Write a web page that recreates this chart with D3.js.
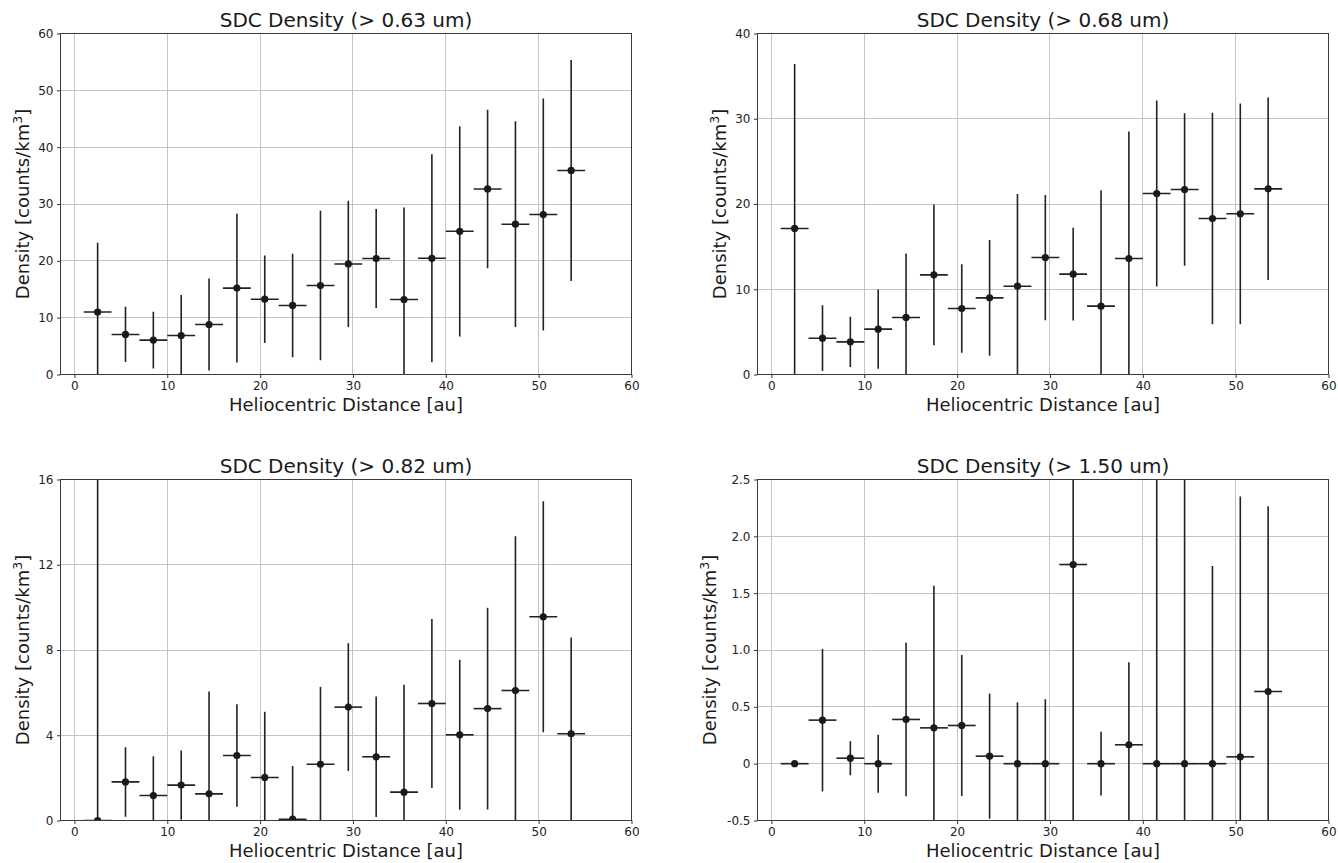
<!DOCTYPE html>
<html>
<head>
<meta charset="utf-8">
<script src="https://cdn.jsdelivr.net/npm/d3@7"></script>
<style>
  html, body { margin: 0; padding: 0; background: #fff; }
  svg { display: block; overflow: visible; }
</style>
</head>
<body>
<script>
// bin centres in au, each bin is +/- 1.5 au wide
const xCenters = [2.5, 5.5, 8.5, 11.5, 14.5, 17.5, 20.5, 23.5, 26.5, 29.5, 32.5, 35.5, 38.5, 41.5, 44.5, 47.5, 50.5, 53.5];
const xErr = 1.5;
const xTicks = [0, 10, 20, 30, 40, 50, 60];

const density063 = [11.0, 7.05, 6.05, 6.85, 8.8, 15.2, 13.25, 12.15, 15.65, 19.45, 20.4, 13.2, 20.45, 25.2, 32.65, 26.45, 28.15, 35.9];
const err063 = [12.2, 4.85, 5.0, 7.15, 8.1, 13.1, 7.7, 9.1, 13.15, 11.1, 8.7, 16.2, 18.3, 18.5, 13.95, 18.1, 20.4, 19.45];

const density068 = [17.13, 4.26, 3.83, 5.32, 6.69, 11.69, 7.74, 8.99, 10.36, 13.72, 11.77, 8.02, 13.6, 21.23, 21.7, 18.3, 18.85, 21.78];
const err068 = [19.3, 3.85, 2.95, 4.65, 7.5, 8.25, 5.2, 6.8, 10.8, 7.35, 5.45, 13.6, 14.9, 10.9, 8.95, 12.4, 12.95, 10.7];

const density082 = [0.0, 1.81, 1.17, 1.66, 1.25, 3.05, 2.02, 0.06, 2.64, 5.32, 2.99, 1.33, 5.49, 4.02, 5.25, 6.1, 9.56, 4.07];
const err082 = [17.0, 1.63, 1.85, 1.62, 4.8, 2.4, 3.08, 2.5, 3.63, 3.0, 2.83, 5.04, 3.97, 3.52, 4.73, 7.24, 5.42, 4.52];

const density150 = [0.0, 0.383, 0.048, 0.0, 0.389, 0.315, 0.336, 0.066, 0.0, 0.0, 1.752, 0.0, 0.166, 0.0, 0.0, 0.0, 0.06, 0.635];
const err150 = [0.0, 0.627, 0.15, 0.255, 0.675, 1.25, 0.62, 0.55, 0.54, 0.567, 2.5, 0.28, 0.727, 3.0, 3.0, 1.74, 2.29, 1.63];

const titles = ["SDC Density (> 0.63 um)", "SDC Density (> 0.68 um)", "SDC Density (> 0.82 um)", "SDC Density (> 1.50 um)"];
const yTicks063 = [0, 10, 20, 30, 40, 50, 60];
const yTicks068 = [0, 10, 20, 30, 40];
const yTicks082 = [0, 4, 8, 12, 16];
const yTicks150 = [-0.5, 0, 0.5, 1.0, 1.5, 2.0, 2.5];
const yLabels150 = ["-0.5", "0", "0.5", "1.0", "1.5", "2.0", "2.5"];

const outerWidth = 1338;
const outerHeight = 863;
const innerWidth = 571;
const innerHeight = 341;
const xDomain = [-1.5, 60];
const fontFamily = "DejaVu Sans, sans-serif";

const SVG = d3
  .select("body")
  .append("svg")
  .attr("width", outerWidth)
  .attr("height", outerHeight)
  .attr("viewBox", "0 0 " + outerWidth + " " + outerHeight);

const defs = SVG.append("defs");

const panels = [
  { left: 60.5, top: 33.5, values: density063, errs: err063, ticks: yTicks063, labels: null, ylabelX: -37.5, title: titles[0] },
  { left: 757.5, top: 33.5, values: density068, errs: err068, ticks: yTicks068, labels: null, ylabelX: -37.5, title: titles[1] },
  { left: 60.5, top: 479.5, values: density082, errs: err082, ticks: yTicks082, labels: null, ylabelX: -37.5, title: titles[2] },
  { left: 757.5, top: 479.5, values: density150, errs: err150, ticks: yTicks150, labels: yLabels150, ylabelX: -47.5, title: titles[3] }
];

panels.forEach(function(p, i) {
  drawPanel(p, i);
});

function drawPanel(p, i) {
  const g = SVG.append("g").attr("transform", "translate(" + p.left + "," + p.top + ")");

  const xScale = d3.scaleLinear().domain(xDomain).range([0, innerWidth]);
  const yScale = d3
    .scaleLinear()
    .domain([p.ticks[0], p.ticks[p.ticks.length - 1]])
    .range([innerHeight, 0]);

  // clip region in page coordinates
  defs
    .append("clipPath")
    .attr("id", "clip" + i)
    .append("rect")
    .attr("x", p.left)
    .attr("y", p.top)
    .attr("width", innerWidth)
    .attr("height", innerHeight);

  // grid
  g.append("g")
    .selectAll("line")
    .data(xTicks)
    .enter()
    .append("line")
    .attr("x1", d => Math.round(xScale(d)))
    .attr("x2", d => Math.round(xScale(d)))
    .attr("y1", 0)
    .attr("y2", innerHeight)
    .attr("stroke", "#c4c4c4")
    .attr("stroke-width", 1);

  g.append("g")
    .selectAll("line")
    .data(p.ticks)
    .enter()
    .append("line")
    .attr("x1", 0)
    .attr("x2", innerWidth)
    .attr("y1", d => Math.round(yScale(d)))
    .attr("y2", d => Math.round(yScale(d)))
    .attr("stroke", "#c4c4c4")
    .attr("stroke-width", 1);

  const rows = xCenters.map(function(x, j) {
    return { x: x, y: p.values[j], e: p.errs[j] };
  });

  const marks = SVG.append("g")
    .attr("clip-path", "url(#clip" + i + ")")
    .append("g")
    .attr("transform", "translate(" + p.left + "," + p.top + ")");

  // vertical error bars
  marks
    .selectAll(".vbar")
    .data(rows.filter(d => d.e > 0))
    .enter()
    .append("line")
    .attr("class", "vbar")
    .attr("x1", d => xScale(d.x))
    .attr("x2", d => xScale(d.x))
    .attr("y1", d => yScale(d.y - d.e))
    .attr("y2", d => yScale(d.y + d.e))
    .attr("stroke", "#222")
    .attr("stroke-width", 1.6);

  // horizontal (bin width) bars
  marks
    .selectAll(".hbar")
    .data(rows)
    .enter()
    .append("line")
    .attr("class", "hbar")
    .attr("x1", d => xScale(d.x - xErr))
    .attr("x2", d => xScale(d.x + xErr))
    .attr("y1", d => yScale(d.y))
    .attr("y2", d => yScale(d.y))
    .attr("stroke", "#222")
    .attr("stroke-width", 1.6);

  marks
    .selectAll("circle")
    .data(rows)
    .enter()
    .append("circle")
    .attr("cx", d => xScale(d.x))
    .attr("cy", d => yScale(d.y))
    .attr("r", 3.6)
    .attr("fill", "#1a1a1a");

  // axes, frame and labels on top of the marks
  const top = SVG.append("g").attr("transform", "translate(" + p.left + "," + p.top + ")");

  const xAxis = d3
    .axisBottom(xScale)
    .tickValues(xTicks)
    .tickSize(3.5)
    .tickPadding(3.5)
    .tickSizeOuter(0);

  const yAxis = d3
    .axisLeft(yScale)
    .tickValues(p.ticks)
    .tickSize(3.5)
    .tickPadding(3.5)
    .tickSizeOuter(0)
    .tickFormat(function(d, k) {
      return p.labels ? p.labels[k] : String(d);
    });

  const xg = top.append("g").attr("transform", "translate(0," + innerHeight + ")").call(xAxis);
  const yg = top.append("g").call(yAxis);

  [xg, yg].forEach(function(a) {
    a.attr("font-family", fontFamily).attr("font-size", 12);
    a.select(".domain").remove();
    a.selectAll(".tick line").attr("stroke", "#333");
    a.selectAll(".tick text").attr("fill", "#222");
  });

  top.append("rect")
    .attr("width", innerWidth)
    .attr("height", innerHeight)
    .attr("fill", "none")
    .attr("stroke", "#3a3a3a")
    .attr("stroke-width", 1);

  top.append("text")
    .attr("x", innerWidth / 2)
    .attr("y", -7)
    .attr("text-anchor", "middle")
    .attr("font-family", fontFamily)
    .attr("font-size", 20)
    .attr("fill", "#1a1a1a")
    .text(p.title);

  top.append("text")
    .attr("x", innerWidth / 2)
    .attr("y", innerHeight + 36)
    .attr("text-anchor", "middle")
    .attr("font-family", fontFamily)
    .attr("font-size", 18)
    .attr("fill", "#1a1a1a")
    .text("Heliocentric Distance [au]");

  const yl = top
    .append("text")
    .attr("transform", "translate(" + p.ylabelX + "," + innerHeight / 2 + ") rotate(-90)")
    .attr("text-anchor", "middle")
    .attr("dy", "0.35em")
    .attr("font-family", fontFamily)
    .attr("font-size", 18)
    .attr("fill", "#1a1a1a");
  yl.append("tspan").text("Density [counts/km");
  yl.append("tspan").attr("dy", -7).attr("font-size", 12.5).text("3");
  yl.append("tspan").attr("dy", 7).text("]");
}
</script>
</body>
</html>
